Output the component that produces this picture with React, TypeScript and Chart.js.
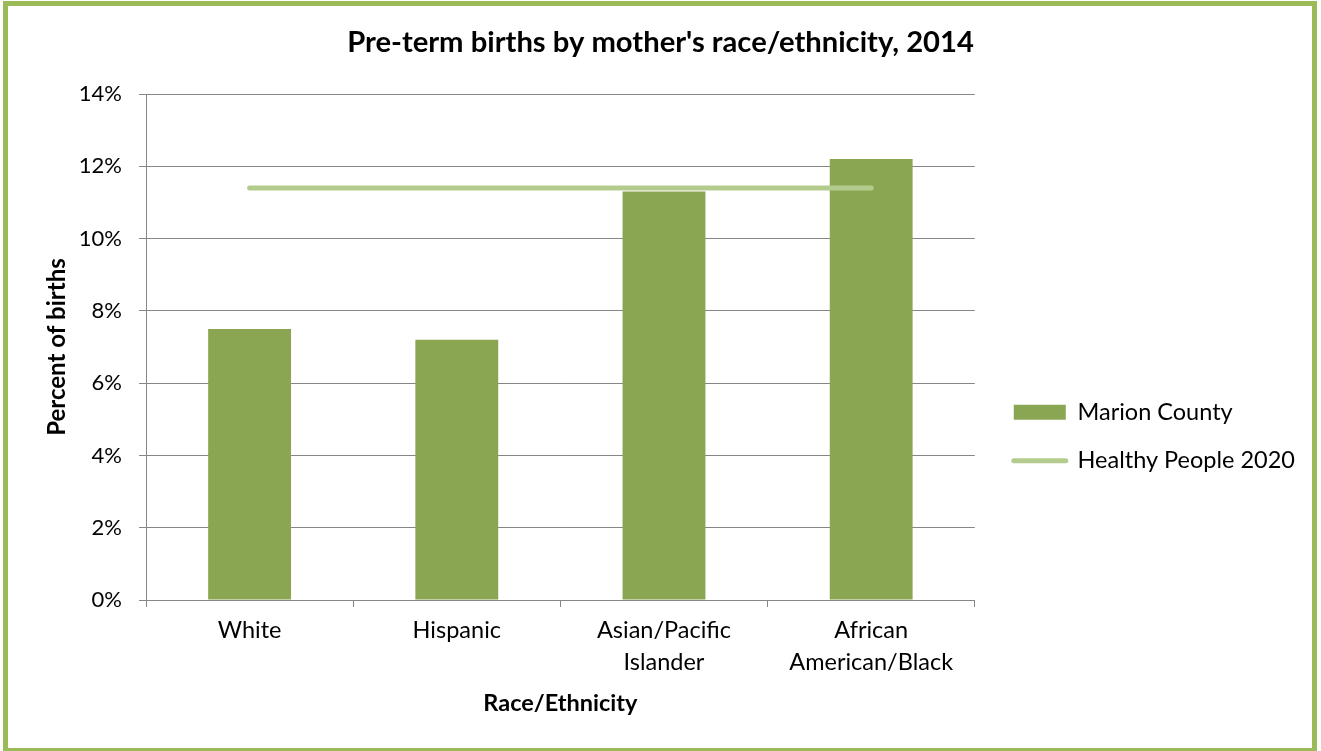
import React, { useEffect, useRef } from 'react';
import { Chart, registerables } from 'chart.js';

Chart.register(...registerables);

const categories: (string | string[])[] = ['White', 'Hispanic', ['Asian/Pacific', 'Islander'], ['African', 'American/Black']];
const marionCounty = [7.5, 7.2, 11.3, 12.2];
const healthyPeople2020 = [11.4, 11.4, 11.4, 11.4];
const yMin = 0;
const yMax = 14;
const yStep = 2;

const FONT = 'Lato';
const GRID = '#868686';
const BAR = '#8BA652';
const LINE = '#B3CB8D';
const FRAME = '#9BBB59';
const LEGEND_SHIFT = 14;
const TITLE_SHIFT = 15;

const boxShift = {
  id: 'boxShift',
  afterLayout(chart: any) {
    const lg = chart.legend;
    if (lg) {
      lg.left += LEGEND_SHIFT;
      lg.right += LEGEND_SHIFT;
    }
    const tb = chart.titleBlock;
    if (tb) {
      tb.left += TITLE_SHIFT;
      tb.right += TITLE_SHIFT;
    }
  },
};

export default function App() {
  const ref = useRef<HTMLCanvasElement | null>(null);

  useEffect(() => {
    document.body.style.margin = '0';
    const canvas = ref.current;
    if (!canvas) return;
    Chart.defaults.font.family = FONT;
    Chart.defaults.color = '#000';
    const chart = new Chart(canvas, {
      type: 'bar',
      data: {
        labels: categories as any,
        datasets: [
          {
            type: 'bar',
            label: 'Marion County',
            data: marionCounty,
            backgroundColor: BAR,
            borderWidth: 0,
            barPercentage: 0.4,
            categoryPercentage: 1.0,
            order: 2,
            pointStyle: 'rect',
          } as any,
          {
            type: 'line',
            label: 'Healthy People 2020',
            data: healthyPeople2020,
            borderColor: LINE,
            backgroundColor: LINE,
            borderWidth: 5,
            borderCapStyle: 'round',
            pointRadius: 0,
            pointHoverRadius: 0,
            pointStyle: 'line',
            pointBorderColor: LINE,
            pointBorderWidth: 5,
            fill: false,
            tension: 0,
            order: 1,
          } as any,
        ],
      },
      plugins: [boxShift],
      options: {
        responsive: false,
        animation: false,
        layout: { padding: { left: 0, right: 30, top: 0, bottom: 0 } },
        plugins: {
          title: {
            display: true,
            text: "Pre-term births by mother's race/ethnicity, 2014",
            color: '#000',
            font: { family: FONT, size: 29.2, weight: 'bold', lineHeight: 1.2 },
            padding: { top: 25.5, bottom: 33.5 },
          },
          legend: {
            display: true,
            position: 'right',
            align: 'center',
            title: { display: true, text: ' ', padding: { top: 112, bottom: 0 }, font: { size: 10, lineHeight: 1 } },
            labels: {
              usePointStyle: true,
              pointStyleWidth: 52,
              boxHeight: 15,
              padding: 25,
              color: '#000',
              font: { family: FONT, size: 23.5 },
              sort: (a: any, b: any) => a.datasetIndex - b.datasetIndex,
              generateLabels: (c: any) => {
                const items = Chart.defaults.plugins.legend.labels.generateLabels(c);
                return items.map((it: any) => {
                  if (it.datasetIndex === 1) {
                    return { ...it, lineCap: 'round', lineWidth: 5, strokeStyle: LINE, fillStyle: LINE, pointStyle: 'line' };
                  }
                  return { ...it, lineWidth: 0, pointStyle: 'rect', fillStyle: BAR };
                });
              },
            },
          },
          tooltip: { enabled: false },
        },
        scales: {
          x: {
            offset: true,
            grid: { offset: true, drawOnChartArea: false, drawTicks: true, tickLength: 7, color: GRID },
            border: { display: true, color: GRID },
            ticks: {
              color: '#000',
              font: { family: FONT, size: 23.5, lineHeight: 1.36 },
              padding: 7,
              maxRotation: 0,
              autoSkip: false,
            },
            title: {
              display: true,
              text: 'Race/Ethnicity',
              color: '#000',
              font: { family: FONT, size: 23.5, weight: 'bold', lineHeight: 1.2 },
              padding: { top: 0, bottom: 33 },
            },
            afterFit: (s: any) => {
              s.height = 151;
            },
          },
          y: {
            min: yMin,
            max: yMax,
            ticks: {
              stepSize: yStep,
              color: '#000',
              font: { family: FONT, size: 22 },
              padding: 17,
              callback: (v: any) => v + '%',
            },
            grid: { color: GRID, tickLength: 7, drawTicks: true },
            border: { display: true, color: GRID },
            title: {
              display: true,
              text: 'Percent of births',
              color: '#000',
              font: { family: FONT, size: 24, weight: 'bold', lineHeight: 1.2 },
              padding: { top: 42.6, bottom: 0 },
            },
            afterFit: (s: any) => {
              s.width = 146;
            },
          },
        },
      },
    });
    return () => chart.destroy();
  }, []);

  return (
    <div style={{ position: 'relative', width: 1321, height: 751, background: '#fff', overflow: 'hidden' }}>
      <canvas ref={ref} width={1321} height={751} style={{ position: 'absolute', left: 0, top: 0, width: 1321, height: 751 }} />
      <div
        style={{
          position: 'absolute',
          left: 3,
          top: 1,
          width: 1314,
          height: 752,
          boxSizing: 'border-box',
          border: `5px solid ${FRAME}`,
          pointerEvents: 'none',
        }}
      />
    </div>
  );
}
